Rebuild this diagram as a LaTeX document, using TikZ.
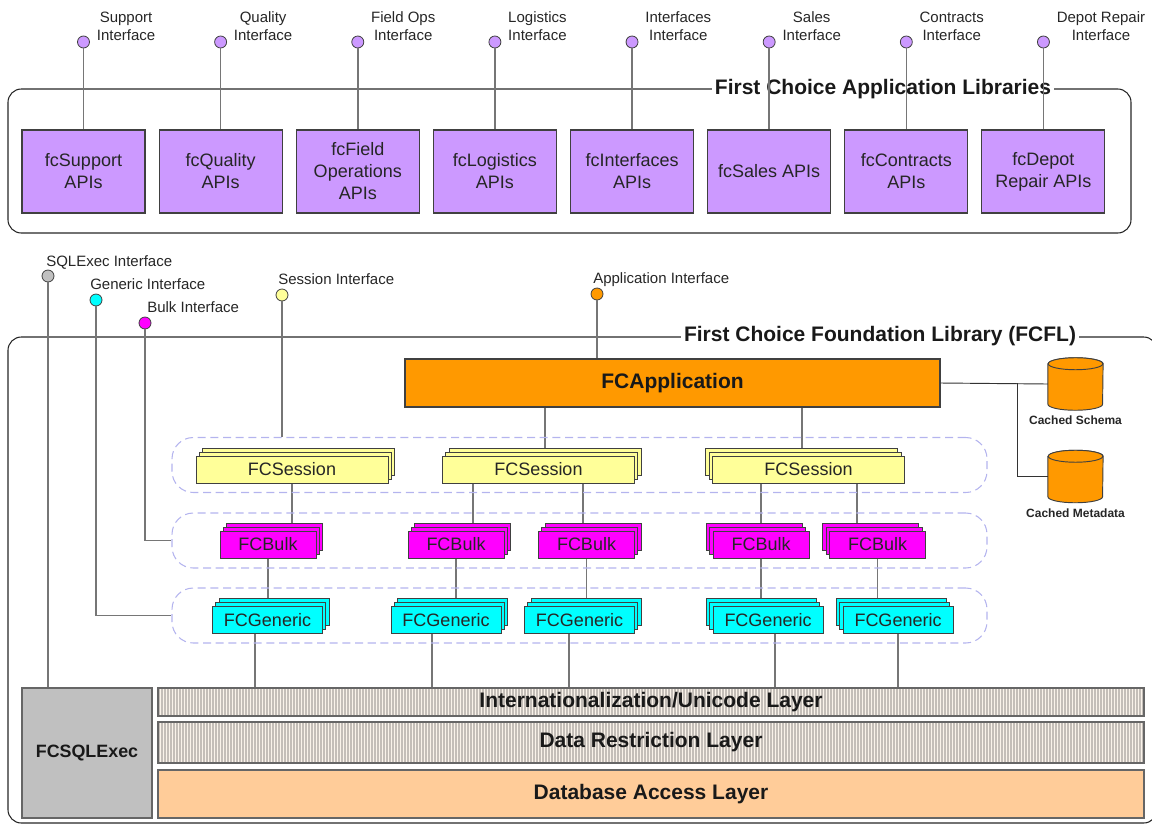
\documentclass[tikz,border=0pt]{standalone}
\usepackage{fontspec}
\setmainfont{Liberation Sans}
\usepackage{xcolor}
\usetikzlibrary{positioning, shadows, patterns.meta, backgrounds}

\definecolor{apiviolet}{HTML}{CC99FF}
\definecolor{edgegray}{HTML}{404040}
\definecolor{wiregray}{HTML}{767676}
\definecolor{sessionyellow}{HTML}{FFFF99}
\definecolor{bulkmagenta}{HTML}{FF00FF}
\definecolor{genericcyan}{HTML}{00FFFF}
\definecolor{apporange}{HTML}{FF9900}
\definecolor{sqlgray}{HTML}{C0C0C0}
\definecolor{dbpeach}{HTML}{FFCC99}
\definecolor{creamy}{HTML}{FAF3EA}
\definecolor{stripegray}{HTML}{C4BEB8}
\definecolor{groupblue}{HTML}{B4B4EE}

\begin{document}
\begin{tikzpicture}[
  x=0.75pt, y=-0.75pt,
  font=\fontsize{11.25}{13.5}\selectfont,
  frame/.style={draw=black!85, line width=0.8pt, rounded corners=10pt},
  frametitle/.style={fill=white, inner sep=2pt, text=black!90, font=\bfseries\fontsize{15.75}{18}\selectfont},
  api/.style={draw=edgegray, line width=0.8pt, fill=apiviolet, align=center, text=black!85, minimum width=92.25pt, minimum height=62.25pt, inner sep=2pt, font=\fontsize{13.5}{16.5}\selectfont},
  dot/.style={circle, draw=edgegray, line width=0.6pt, minimum size=9pt, inner sep=0pt},
  iflabel/.style={align=center, inner sep=1pt, text=black!85},
  wire/.style={draw=wiregray, line width=1.2pt},
  link/.style={draw=black!80, line width=0.7pt},
  group/.style={draw=groupblue, dash pattern=on 6pt off 3.5pt, line width=0.8pt, rounded corners=16pt, minimum width=611.25pt, minimum height=41.25pt},
  stackR/.style={draw=edgegray, line width=0.7pt, fill=#1, minimum height=20.25pt, inner sep=1pt, text=black!85, font=\fontsize{13.5}{16}\selectfont,
    general shadow={shadow xshift=5pt, shadow yshift=5.8pt, fill=#1, draw=edgegray},
    general shadow={shadow xshift=2.5pt, shadow yshift=2.9pt, fill=#1, draw=edgegray}},
  stackL/.style={draw=edgegray, line width=0.7pt, fill=#1, minimum height=20.25pt, inner sep=1pt, text=black!85, font=\fontsize{13.5}{16}\selectfont,
    general shadow={shadow xshift=-5pt, shadow yshift=5.8pt, fill=#1, draw=edgegray},
    general shadow={shadow xshift=-2.5pt, shadow yshift=2.9pt, fill=#1, draw=edgegray}},
  appbox/.style={draw=edgegray, line width=0.8pt, fill=apporange, minimum width=401.25pt, minimum height=36pt, text=black!90, font=\bfseries\fontsize{15.75}{18}\selectfont},
  store/.style={minimum width=41pt, minimum height=39pt, inner sep=0pt},
  drum/.style={draw=edgegray, line width=0.7pt, fill=apporange},
  cachelabel/.style={inner sep=0pt, text=black!85, font=\bfseries\fontsize{9}{10}\selectfont},
  layer/.style={draw=edgegray!80, line width=0.9pt, minimum width=739.5pt, inner sep=0pt, text=black!90, font=\bfseries\fontsize{15.75}{18}\selectfont},
  striped/.style={layer, preaction={fill=creamy}, pattern={Lines[angle=90, distance=2.25pt, line width=0.8pt]}, pattern color=stripegray}
]
\useasboundingbox (0,0) rectangle (1152,825);

% Application libraries frame
\draw[frame] (8,89) rectangle (1131,233);
\node[frametitle] (aplib) at (883,89) {First Choice Application Libraries};

% API boxes
\node[api] (sup) at (83.5,171.5) {fcSupport\\APIs};
\node[api, right=9.8pt of sup] (qual) {fcQuality\\APIs};
\node[api, right=9.8pt of qual] (field) {fcField\\Operations\\APIs};
\node[api, right=9.8pt of field] (logi) {fcLogistics\\APIs};
\node[api, right=9.8pt of logi] (intf) {fcInterfaces\\APIs};
\node[api, right=9.8pt of intf] (sales) {fcSales APIs};
\node[api, right=9.8pt of sales] (contr) {fcContracts\\APIs};
\node[api, right=9.8pt of contr] (depot) {fcDepot\\Repair APIs};

% API interfaces
\node[dot, fill=apiviolet] (isup) at (sup.north |- 0,42) {};
\node[dot, fill=apiviolet] (iqual) at (qual.north |- 0,42) {};
\node[dot, fill=apiviolet] (ifield) at (field.north |- 0,42) {};
\node[dot, fill=apiviolet] (ilogi) at (logi.north |- 0,42) {};
\node[dot, fill=apiviolet] (iintf) at (intf.north |- 0,42) {};
\node[dot, fill=apiviolet] (isales) at (sales.north |- 0,42) {};
\node[dot, fill=apiviolet] (icontr) at (contr.north |- 0,42) {};
\node[dot, fill=apiviolet] (idepot) at (depot.north |- 0,42) {};

\node[iflabel, anchor=south west, xshift=4pt] at (isup.east) {Support\\Interface};
\node[iflabel, anchor=south west, xshift=4pt] at (iqual.east) {Quality\\Interface};
\node[iflabel, anchor=south west, xshift=4pt] at (ifield.east) {Field Ops\\Interface};
\node[iflabel, anchor=south west, xshift=4pt] at (ilogi.east) {Logistics\\Interface};
\node[iflabel, anchor=south west, xshift=4pt] at (iintf.east) {Interfaces\\Interface};
\node[iflabel, anchor=south west, xshift=4pt] at (isales.east) {Sales\\Interface};
\node[iflabel, anchor=south west, xshift=4pt] at (icontr.east) {Contracts\\Interface};
\node[iflabel, anchor=south west, xshift=4pt] at (idepot.east) {Depot Repair\\Interface};

\draw[wire] (isup) -- (sup);
\draw[wire] (iqual) -- (qual);
\draw[wire] (ifield) -- (field);
\draw[wire] (ilogi) -- (logi);
\draw[wire] (iintf) -- (intf);
\draw[wire] (isales) -- (sales);
\draw[wire] (icontr) -- (contr);
\draw[wire] (idepot) -- (depot);

% Foundation library frame
\draw[frame] (8,337) rectangle (1157,823);
\node[frametitle] (fcfl) at (880,336) {First Choice Foundation Library (FCFL)};

% Application and caches
\node[appbox] (app) at (672.5,383) {FCApplication};
\node[store] (schema) at (1075.5,384) {};
\path[drum] ([yshift=-4.5pt]schema.north west) -- ([yshift=4.5pt]schema.south west)
  arc[start angle=180, end angle=360, x radius=20.5pt, y radius=4.5pt]
  -- ([yshift=-4.5pt]schema.north east)
  arc[start angle=0, end angle=180, x radius=20.5pt, y radius=4.5pt] -- cycle;
\path[drum] ([yshift=-4.5pt]schema.north) ellipse[x radius=20.5pt, y radius=4.5pt];
\node[cachelabel, below=4pt of schema] {Cached Schema};
\node[store] (meta) at (1075.5,476.5) {};
\path[drum] ([yshift=-4.5pt]meta.north west) -- ([yshift=4.5pt]meta.south west)
  arc[start angle=180, end angle=360, x radius=20.5pt, y radius=4.5pt]
  -- ([yshift=-4.5pt]meta.north east)
  arc[start angle=0, end angle=180, x radius=20.5pt, y radius=4.5pt] -- cycle;
\path[drum] ([yshift=-4.5pt]meta.north) ellipse[x radius=20.5pt, y radius=4.5pt];
\node[cachelabel, below=4pt of meta] {Cached Metadata};

% Groups
\node[group] (gses) at (579.5,465) {};
\node[group] (gbulk) at (579.5,540.5) {};
\node[group] (ggen) at (579.5,615.5) {};

% Sessions
\node[stackR=sessionyellow, minimum width=144pt] (s1) at (292,469.5) {FCSession};
\node[stackR=sessionyellow, minimum width=144pt] (s2) at (538.5,469.5) {FCSession};
\node[stackL=sessionyellow, minimum width=144pt] (s3) at (808.5,469.5) {FCSession};

% Bulk
\node[stackR=bulkmagenta, minimum width=72pt] (b1) at (268,544.5) {FCBulk};
\node[stackR=bulkmagenta, minimum width=72pt] (b2) at (456,544.5) {FCBulk};
\node[stackR=bulkmagenta, minimum width=72pt] (b3) at (586.5,544.5) {FCBulk};
\node[stackL=bulkmagenta, minimum width=72pt] (b4) at (761,544.5) {FCBulk};
\node[stackL=bulkmagenta, minimum width=72pt] (b5) at (877.5,544.5) {FCBulk};

% Generic
\node[stackR=genericcyan, minimum width=82.5pt] (g1) at (267.5,620) {FCGeneric};
\node[stackR=genericcyan, minimum width=82.5pt] (g2) at (446,620) {FCGeneric};
\node[stackR=genericcyan, minimum width=82.5pt] (g3) at (579.5,620) {FCGeneric};
\node[stackL=genericcyan, minimum width=82.5pt] (g4) at (768,620) {FCGeneric};
\node[stackL=genericcyan, minimum width=82.5pt] (g5) at (898,620) {FCGeneric};

% Layers
\node[draw=edgegray!80, line width=0.9pt, fill=sqlgray, minimum width=97.5pt, minimum height=97.5pt, text=black!90, font=\bfseries\fontsize{13.4}{16}\selectfont] (sqlx) at (87,753) {FCSQLExec};
\node[striped, minimum height=21pt] (intl) at (651,702) {Internationalization/Unicode Layer};
\node[striped, minimum height=30.75pt] (drl) at (651,742.5) {Data Restriction Layer};
\node[layer, fill=dbpeach, minimum height=36pt] (dal) at (651,794) {Database Access Layer};

% Foundation interfaces
\node[dot, fill=sqlgray] (isql) at (48,276) {};
\node[dot, fill=genericcyan] (igen) at (96,300) {};
\node[dot, fill=bulkmagenta] (ibulk) at (145,323) {};
\node[dot, fill=sessionyellow] (ises) at (282,295) {};
\node[dot, fill=apporange] (iapp) at (597,294) {};

\node[iflabel, anchor=base west, xshift=-2.5pt, yshift=2pt] at (isql.north) {SQLExec Interface};
\node[iflabel, anchor=base west, xshift=-5.5pt, yshift=3.4pt] at (igen.north) {Generic Interface};
\node[iflabel, anchor=base west, xshift=0.5pt, yshift=3.4pt] at (ibulk.north) {Bulk Interface};
\node[iflabel, anchor=base west, xshift=-4pt, yshift=3.4pt] at (ises.north) {Session Interface};
\node[iflabel, anchor=base west, xshift=-4pt, yshift=3.4pt] at (iapp.north) {Application Interface};

\draw[wire] (isql) -- (isql |- sqlx.north);
\draw[wire] (igen) |- (ggen.west);
\draw[wire] (ibulk) |- (gbulk.west);
\draw[wire] (ises) -- (ises |- gses.north);
\draw[wire] (iapp) -- (iapp |- app.north);

\draw[link] (app.east) -- (schema.west);
\draw[link] (app.east -| 1017,0) |- (meta.west);

% Inner connections
\begin{scope}[on background layer]
\draw[wire] (app.south -| 545,0) -- (s2.north -| 545,0);
\draw[wire] (app.south -| 802,0) -- (s3.north -| 802,0);
\draw[wire] (s1.south) -- (s1.south |- b1.north);
\draw[wire] (s2.south -| 473,0) -- (b2.north -| 473,0);
\draw[wire] (s2.south -| 583,0) -- (b3.north -| 583,0);
\draw[wire] (b4.north |- s3.south) -- (b4.north);
\draw[wire] (s3.south -| 857,0) -- (b5.north -| 857,0);
\draw[wire] (b1.south) -- (b1.south |- g1.north);
\draw[wire] (b2.south) -- (b2.south |- g2.north);
\draw[wire] (b3.south) -- (b3.south |- g3.north);
\draw[wire] (b4.south) -- (b4.south |- g4.north);
\draw[wire] (b5.south) -- (b5.south |- g5.north);
\draw[wire] (g1.south -| 255,0) -- (intl.north -| 255,0);
\draw[wire] (g2.south -| 432,0) -- (intl.north -| 432,0);
\draw[wire] (g3.south -| 569,0) -- (intl.north -| 569,0);
\draw[wire] (g4.south -| 775,0) -- (intl.north -| 775,0);
\draw[wire] (g5.south) -- (g5.south |- intl.north);
\end{scope}

\end{tikzpicture}
\end{document}
